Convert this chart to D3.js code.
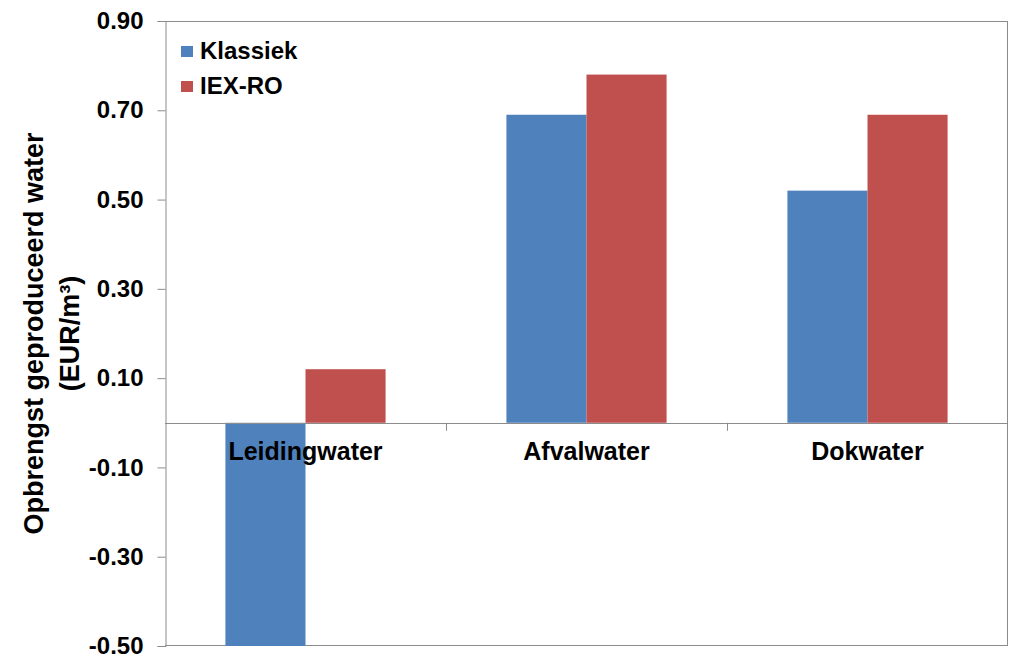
<!DOCTYPE html>
<html>
<head>
<meta charset="utf-8">
<script src="https://cdn.jsdelivr.net/npm/d3@7"></script>
<style>
  body { margin: 0; background: #fff; }
  svg text { font-family: "Liberation Sans", Arial, sans-serif; font-weight: bold; fill: #000; }
</style>
</head>
<body>
<div id="chart"></div>
<script>
var categories = ["Leidingwater", "Afvalwater", "Dokwater"];
var seriesNames = ["Klassiek", "IEX-RO"];
var klassiek = [-0.50, 0.69, 0.52];
var iexro = [0.12, 0.78, 0.69];
var yTicks = [-0.50, -0.30, -0.10, 0.10, 0.30, 0.50, 0.70, 0.90];
var colors = ["#4F81BD", "#C0504D"];

var width = 1023, height = 668;
var margin = {top: 21, right: 15, bottom: 22, left: 165};
var plotW = width - margin.left - margin.right,
    plotH = height - margin.top - margin.bottom;

var svg = d3.select("#chart").append("svg")
    .attr("width", width)
    .attr("height", height);

var g = svg.append("g")
    .attr("transform", "translate(" + margin.left + "," + margin.top + ")");

var y = d3.scaleLinear().domain([-0.5, 0.9]).range([plotH, 0]);

var x0 = d3.scaleBand().domain(categories).range([0, plotW])
    .paddingInner(0.43).paddingOuter(0.215);
var x1 = d3.scaleBand().domain(seriesNames).range([0, x0.bandwidth()]);

var gray = "#8c8c8c";

// plot border (top, right, bottom)
g.append("line").attr("x1", 0).attr("x2", plotW).attr("y1", 0.5).attr("y2", 0.5)
    .attr("stroke", gray);
g.append("line").attr("x1", plotW - 0.5).attr("x2", plotW - 0.5).attr("y1", 0).attr("y2", plotH)
    .attr("stroke", gray);
g.append("line").attr("x1", 0).attr("x2", plotW).attr("y1", plotH - 0.5).attr("y2", plotH - 0.5)
    .attr("stroke", gray);

// bars
var data = categories.map(function(c, i) {
  return {cat: c, vals: [{s: seriesNames[0], v: klassiek[i]}, {s: seriesNames[1], v: iexro[i]}]};
});

var groups = g.selectAll(".grp").data(data).enter().append("g")
    .attr("transform", function(d) { return "translate(" + x0(d.cat) + ",0)"; });

groups.selectAll("rect").data(function(d) { return d.vals; }).enter().append("rect")
    .attr("x", function(d) { return x1(d.s); })
    .attr("width", x1.bandwidth())
    .attr("y", function(d) { return y(Math.max(0, d.v)); })
    .attr("height", function(d) { return Math.abs(y(d.v) - y(0)); })
    .attr("fill", function(d, i) { return colors[i]; });

// y axis
var yAxis = d3.axisLeft(y).tickValues(yTicks).tickSize(8).tickPadding(14)
    .tickFormat(function(d) { return d.toFixed(2); });
var ya = g.append("g").attr("transform", "translate(0.5,0)").call(yAxis);
ya.select(".domain").attr("stroke", gray);
ya.selectAll(".tick line").attr("stroke", gray);
ya.selectAll(".tick text").style("font-size", "24px");

// zero line with category ticks
g.append("line").attr("x1", 0).attr("x2", plotW)
    .attr("y1", Math.round(y(0)) + 0.5).attr("y2", Math.round(y(0)) + 0.5)
    .attr("stroke", gray);
var step = x0.step();
[1, 2].forEach(function(k) {
  var bx = Math.round(x0(categories[k]) - step * x0.paddingInner() / 2) + 0.5;
  g.append("line").attr("x1", bx).attr("x2", bx)
      .attr("y1", y(0)).attr("y2", y(0) + 8).attr("stroke", gray);
});

// category labels
g.selectAll(".cat").data(categories).enter().append("text")
    .attr("x", function(d) { return x0(d) + x0.bandwidth() / 2; })
    .attr("y", y(0) + 37)
    .attr("text-anchor", "middle")
    .style("font-size", "25px")
    .text(function(d) { return d; });

// legend
seriesNames.forEach(function(s, i) {
  svg.append("rect").attr("x", 181).attr("y", 46 + i * 35)
      .attr("width", 12).attr("height", 11).attr("fill", colors[i]);
  svg.append("text").attr("x", 200).attr("y", 59 + i * 35)
      .style("font-size", "24px").text(s);
});

// y title
var title = svg.append("text")
    .attr("transform", "translate(43," + (margin.top + plotH / 2) + ") rotate(-90)")
    .attr("text-anchor", "middle")
    .style("font-size", "27px");
title.append("tspan").attr("x", 0).attr("dy", 0).text("Opbrengst geproduceerd water");
title.append("tspan").attr("x", 0).attr("dy", 36).text("(EUR/m\u00B3)");
</script>
</body>
</html>
